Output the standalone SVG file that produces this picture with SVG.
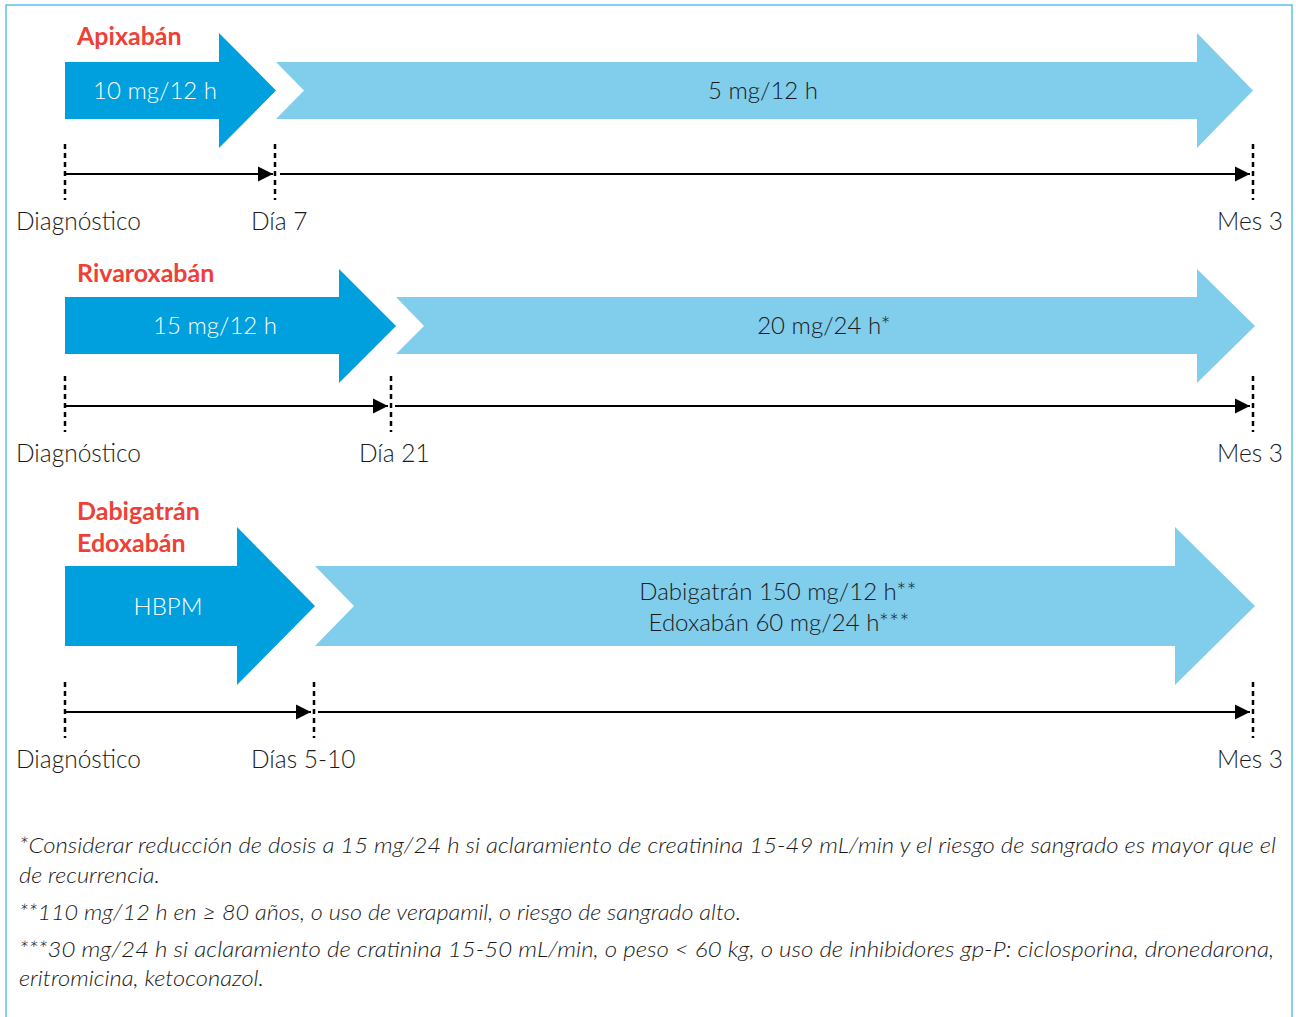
<svg xmlns="http://www.w3.org/2000/svg" width="1296" height="1017" viewBox="0 0 1296 1017">
<style>
.dark{fill:#009FDD}
.light{fill:#80CDEC}
.drug{font-family:Lato,"Liberation Sans",sans-serif;font-weight:700;font-size:25px;fill:#EE4037}
.dose{font-family:Lato,"Liberation Sans",sans-serif;font-weight:300;font-size:24px}
.w{fill:#ffffff}
.k{fill:#1a1a1a}
.lbl{font-family:Lato,"Liberation Sans",sans-serif;font-weight:300;font-size:24.5px;fill:#1a1a1a}
.note{font-family:Lato,"Liberation Sans",sans-serif;font-weight:300;font-style:italic;font-size:22px;fill:#1a1a1a}
.axis{stroke:#000;stroke-width:2.2;fill:none}
.tick{stroke:#000;stroke-width:2.5;stroke-dasharray:5,4;fill:none}
</style>
<defs>
<marker id="ah" viewBox="0 0 10 10" refX="10" refY="5" markerWidth="7" markerHeight="7" markerUnits="strokeWidth" orient="auto">
<path d="M0,0 L10,5 L0,10 Z" fill="#000"/>
</marker>
</defs>
<rect x="6" y="5" width="1286" height="1030" fill="#fff" stroke="#5CC1EA" stroke-width="1.5"/>

<g id="apixaban">
<text class="drug" x="77" y="45">Apixabán</text>
<g id="apix-phase1">
<polygon class="dark" points="65,62 219,62 219,33 276,90.5 219,148 219,119 65,119"/>
<text class="dose w" x="155" y="99" text-anchor="middle">10 mg/12 h</text>
</g>
<g id="apix-phase2">
<polygon class="light" points="276,62 1197,62 1197,33 1253,90.5 1197,148 1197,119 276,119 304,90.5"/>
<text class="dose k" x="763" y="99" text-anchor="middle">5 mg/12 h</text>
</g>
<text class="lbl" x="16" y="230">Diagnóstico</text>
<text class="lbl" x="251" y="230">Día 7</text>
<text class="lbl" x="1283" y="230" text-anchor="end">Mes 3</text>
</g>

<g id="rivaroxaban">
<text class="drug" x="77" y="282">Rivaroxabán</text>
<g id="riva-phase1">
<polygon class="dark" points="65,297 339,297 339,269 396,326 339,383 339,354 65,354"/>
<text class="dose w" x="215" y="334" text-anchor="middle">15 mg/12 h</text>
</g>
<g id="riva-phase2">
<polygon class="light" points="396,297 1197,297 1197,269 1255,326 1197,383 1197,354 396,354 424,326"/>
<text class="dose k" x="824" y="334" text-anchor="middle">20 mg/24 h*</text>
</g>
<text class="lbl" x="16" y="462">Diagnóstico</text>
<text class="lbl" x="359" y="462">Día 21</text>
<text class="lbl" x="1283" y="462" text-anchor="end">Mes 3</text>
</g>

<g id="dabigatran-edoxaban">
<text class="drug" x="77" y="520">Dabigatrán</text>
<text class="drug" x="77" y="552">Edoxabán</text>
<g id="dabi-phase1">
<polygon class="dark" points="65,566 237,566 237,527 315,606 237,685 237,646 65,646"/>
<text class="dose w" x="168" y="615" text-anchor="middle">HBPM</text>
</g>
<g id="dabi-phase2">
<polygon class="light" points="315,566 1175,566 1175,527 1255,606 1175,685 1175,646 315,646 354,606"/>
<text class="dose k" x="778" y="600" text-anchor="middle">Dabigatrán 150 mg/12 h**</text>
<text class="dose k" x="779" y="631" text-anchor="middle">Edoxabán 60 mg/24 h***</text>
</g>
<text class="lbl" x="16" y="768">Diagnóstico</text>
<text class="lbl" x="251" y="768">Días 5-10</text>
<text class="lbl" x="1283" y="768" text-anchor="end">Mes 3</text>
</g>

<g id="connectors">
<line class="tick" x1="65" y1="144" x2="65" y2="200"/>
<line class="tick" x1="275" y1="144" x2="275" y2="200"/>
<line class="tick" x1="1253" y1="144" x2="1253" y2="200"/>
<line class="axis" x1="65" y1="174" x2="273" y2="174" marker-end="url(#ah)"/>
<line class="axis" x1="280" y1="174" x2="1250" y2="174" marker-end="url(#ah)"/>

<line class="tick" x1="65" y1="376" x2="65" y2="432"/>
<line class="tick" x1="391" y1="376" x2="391" y2="432"/>
<line class="tick" x1="1253" y1="376" x2="1253" y2="432"/>
<line class="axis" x1="65" y1="406" x2="388" y2="406" marker-end="url(#ah)"/>
<line class="axis" x1="395" y1="406" x2="1250" y2="406" marker-end="url(#ah)"/>

<line class="tick" x1="65" y1="682" x2="65" y2="738"/>
<line class="tick" x1="314" y1="682" x2="314" y2="738"/>
<line class="tick" x1="1253" y1="682" x2="1253" y2="738"/>
<line class="axis" x1="65" y1="712" x2="311" y2="712" marker-end="url(#ah)"/>
<line class="axis" x1="318" y1="712" x2="1250" y2="712" marker-end="url(#ah)"/>
</g>

<g id="footnotes">
<text class="note" x="19" y="853" textLength="1257" lengthAdjust="spacingAndGlyphs">*Considerar reducción de dosis a 15 mg/24 h si aclaramiento de creatinina 15-49 mL/min y el riesgo de sangrado es mayor que el</text>
<text class="note" x="19" y="883" textLength="141" lengthAdjust="spacingAndGlyphs">de recurrencia.</text>
<text class="note" x="19" y="920" textLength="722" lengthAdjust="spacingAndGlyphs">**110 mg/12 h en ≥ 80 años, o uso de verapamil, o riesgo de sangrado alto.</text>
<text class="note" x="19" y="957" textLength="1255" lengthAdjust="spacingAndGlyphs">***30 mg/24 h si aclaramiento de cratinina 15-50 mL/min, o peso &lt; 60 kg, o uso de inhibidores gp-P: ciclosporina, dronedarona,</text>
<text class="note" x="19" y="986" textLength="245" lengthAdjust="spacingAndGlyphs">eritromicina, ketoconazol.</text>
</g>
</svg>
